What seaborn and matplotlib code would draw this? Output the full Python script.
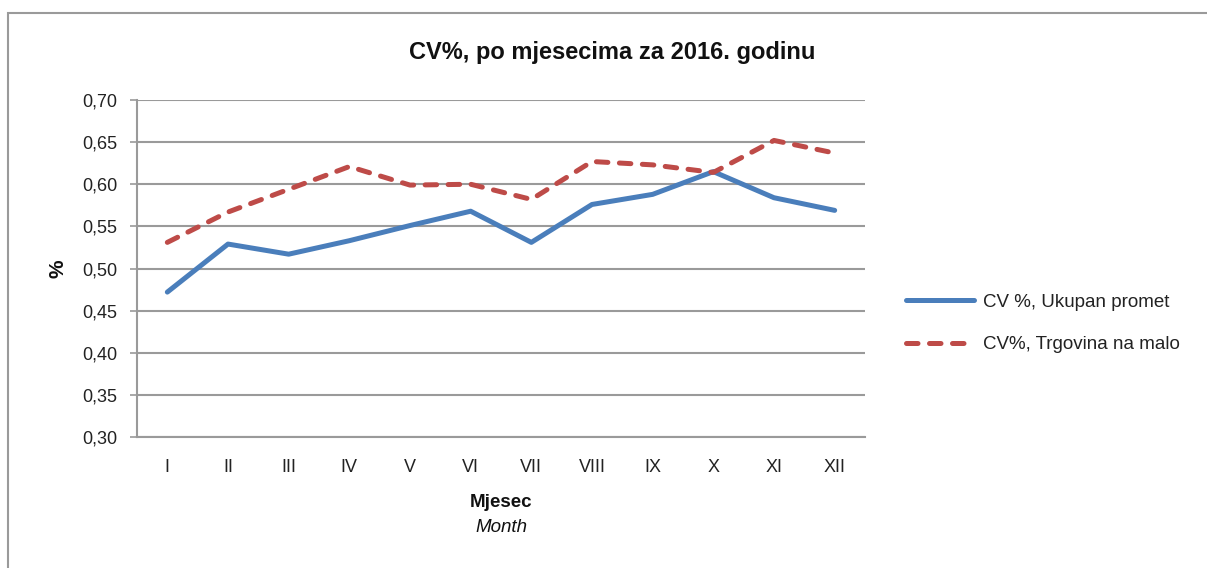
import matplotlib
matplotlib.use("Agg")
import matplotlib.pyplot as plt
import seaborn as sns
import pandas as pd
from matplotlib.patches import Rectangle
from matplotlib.ticker import FuncFormatter

months = ["I", "II", "III", "IV", "V", "VI", "VII", "VIII", "IX", "X", "XI", "XII"]
ukupan_promet = [0.472, 0.529, 0.517, 0.533, 0.551, 0.568, 0.531, 0.576, 0.588, 0.615, 0.584, 0.569]
trgovina_na_malo = [0.531, 0.567, 0.594, 0.621, 0.599, 0.600, 0.582, 0.627, 0.623, 0.614, 0.652, 0.637]
series_names = ["CV %, Ukupan promet", "CV%, Trgovina na malo"]
y_ticks = [0.30, 0.35, 0.40, 0.45, 0.50, 0.55, 0.60, 0.65, 0.70]

df = pd.DataFrame({
    "Mjesec": months * 2,
    "CV": ukupan_promet + trgovina_na_malo,
    "Serija": [series_names[0]] * len(months) + [series_names[1]] * len(months),
})

sns.set_theme(style="white")
plt.rcParams["font.family"] = ["Liberation Sans", "DejaVu Sans"]

W, H = 1207, 568
L, R, T, B = 137, 865, 100, 437
fig = plt.figure(figsize=(W / 100, H / 100), dpi=100)
ax = fig.add_axes([L / W, 1 - B / H, (R - L) / W, (B - T) / H])

palette = {series_names[0]: "#4A7EBB", series_names[1]: "#BE4B48"}
sns.lineplot(data=df, x="Mjesec", y="CV", hue="Serija", style="Serija",
             palette=palette, dashes={series_names[0]: "", series_names[1]: (2.3, 2.3)},
             linewidth=3.6, ax=ax, sort=False)
for line in ax.lines:
    line.set_solid_capstyle("round")
    line.set_dash_capstyle("round")

ax.set_xlim(-0.5, 11.5)
ax.set_ylim(0.30, 0.70)
ax.set_yticks(y_ticks)
ax.yaxis.set_major_formatter(FuncFormatter(lambda v, p: f"{v:.2f}".replace(".", ",")))
ax.grid(axis="y", color="#9a9a9a", linewidth=1.5)
ax.grid(axis="x", visible=False)
for s in ["top", "right"]:
    ax.spines[s].set_visible(False)
for s in ["left", "bottom"]:
    ax.spines[s].set_color("#9a9a9a")
    ax.spines[s].set_linewidth(1.5)
ax.tick_params(axis="y", which="both", left=True, length=5, width=1.2, color="#9a9a9a",
               pad=9, labelsize=13, labelcolor="#222222")
ax.tick_params(axis="x", bottom=False, pad=10, labelsize=13, labelcolor="#222222")

ax.set_xlabel("")
ax.set_ylabel("%", fontsize=15, fontweight="bold", color="#111111")
ax.yaxis.set_label_coords((67 - L) / (R - L), 0.5)
ax.text(0.5, -0.195, "Mjesec", transform=ax.transAxes, ha="center", va="center",
        fontsize=13.5, fontweight="bold", color="#111111")
ax.text(0.5, -0.27, "Month", transform=ax.transAxes, ha="center", va="center",
        fontsize=13.5, fontstyle="italic", color="#111111")

fig.text(612 / W, 1 - 52 / H, "CV%, po mjesecima za 2016. godinu", ha="center", va="center",
         fontsize=17, fontweight="bold", color="#111111")

leg = ax.legend(loc="center left", bbox_to_anchor=((906 - L) / (R - L), (B - 323.5) / (B - T)),
                frameon=False, fontsize=13.5, handlelength=3.65, handletextpad=0.45,
                labelspacing=1.35, borderaxespad=0, borderpad=0)
for t in leg.get_texts():
    t.set_color("#222222")

fig.patches.append(Rectangle((8 / W, -0.05), 1.1, 1 - 13 / H + 0.05, transform=fig.transFigure,
                             fill=False, edgecolor="#9a9a9a", linewidth=1.5))

fig.savefig("out.png", dpi=100)
